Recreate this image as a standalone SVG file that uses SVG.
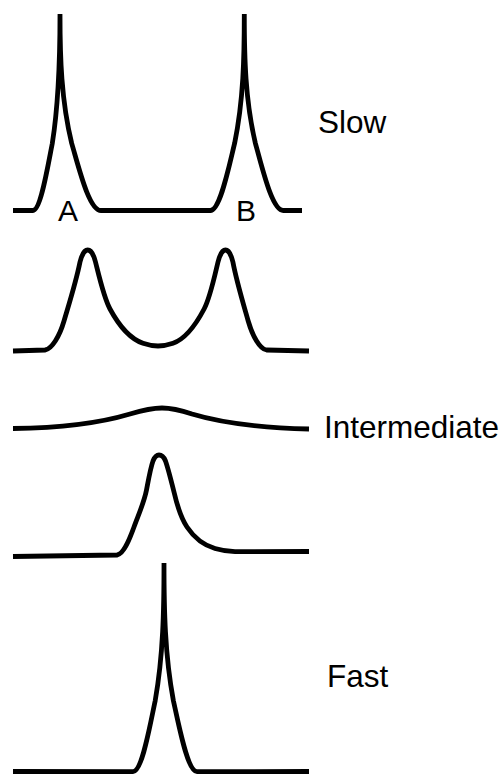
<svg xmlns="http://www.w3.org/2000/svg" width="504" height="775" viewBox="0 0 504 775">
  <style>
    .trace { fill: none; stroke: #000; stroke-width: 4.8; stroke-linecap: butt; stroke-linejoin: miter; }
    .lbl { font-family: "Liberation Sans", Arial, sans-serif; fill: #000; }
    .big { font-size: 31.5px; }
    .peak { font-size: 30px; }
  </style>
  <rect width="504" height="775" fill="#fff"/>
  <g id="spectrum-slow">
    <path class="trace" d="M 13 210.5 L 33 210.5 C 40.5 210.5, 47.5 168.1, 52.3 143.4 C 59.2 100.2, 60 57.1, 60 14 C 60 57.1, 61.2 100.2, 71.7 143.4 C 79 168.1, 89 210.5, 101 210.5 L 210.3 210.5 C 220 210.5, 228.6 168.1, 234.6 143.4 C 243.5 100.2, 244.3 57.1, 244.3 14 C 244.3 57.1, 245.2 100.2, 255.4 143.4 C 262.4 168.1, 272 210.5, 283.3 210.5 L 302 210.5"/>
    <text class="lbl peak" x="58" y="221">A</text>
    <text class="lbl peak" x="236" y="221">B</text>
    <text class="lbl big" x="318" y="133">Slow</text>
  </g>
  <g id="spectrum-broadened">
    <path class="trace" d="M 13 351 L 45 350 C 52 349, 59.6 336, 64 321 C 69 304, 76 282, 80 262 C 82 254, 85 250, 87.7 250 C 90.5 250, 93.5 254, 95.5 262 C 99.5 278, 104 298, 110 309 C 117 322, 128 338, 143 343.3 C 149 345.3, 154 346, 158 346 C 162 346, 167 345.3, 173 343.3 C 188 338, 198.3 320, 204.1 309 C 210 298, 214.2 278, 218 262 C 220 254, 222.8 250, 225.5 250 C 228.1 250, 231 254, 232.9 262 C 236.7 282, 243.4 304, 248.2 321 C 252.5 336, 259.8 349, 266.5 350 L 309 351"/>
  </g>
  <g id="spectrum-intermediate">
    <path class="trace" d="M 13 428.5 C 60 428, 100 423, 130 414 C 145 409.5, 152 408, 162 408 C 172 408, 180 410, 192 414 C 225 424, 270 428, 309 429"/>
    <text class="lbl big" x="324" y="437.5">Intermediate</text>
  </g>
  <g id="spectrum-coalesced">
    <path class="trace" d="M 13 556.5 L 117 555 C 124 554, 130 538, 134 527 C 137.5 517, 144 503, 146.5 490 C 148.5 479.6, 150.5 468, 153 461 C 155 456, 157 455, 159 455 C 161 455, 163.5 456, 165.5 461 C 168 468, 171 480, 174 492 C 177 505, 181 518, 187 527 C 193 536, 203 545, 215 548.5 C 222 550.5, 228 551.5, 235 551.7 L 309 551.5"/>
  </g>
  <g id="spectrum-fast">
    <path class="trace" d="M 13 771.5 L 133 771.7 C 142 771.7, 149.6 727, 155.2 700.7 C 163.3 654.8, 164 608.9, 164 563 C 164 608.9, 164.8 654.8, 173.4 700.7 C 179.3 727, 187.5 771.7, 197 771.7 L 309 771.5"/>
    <text class="lbl big" x="327" y="686.5">Fast</text>
  </g>
</svg>
